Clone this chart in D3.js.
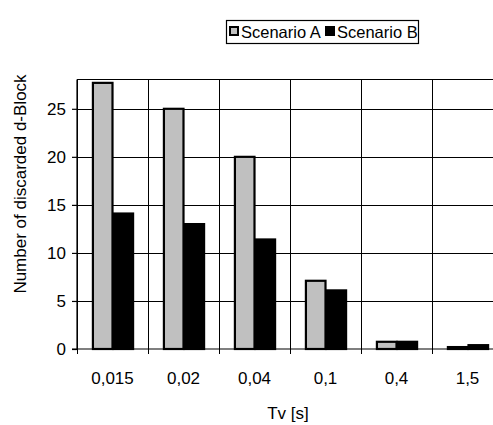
<!DOCTYPE html>
<html>
<head>
<meta charset="UTF-8">
<script src="https://d3js.org/d3.v7.min.js"></script>
<style>
  body { margin: 0; background: #fff; }
  svg text { font-family: "Liberation Sans", Arial, sans-serif; fill: #000; }
</style>
</head>
<body>
<div id="chart"></div>
<script>
var categories = ["0,015", "0,02", "0,04", "0,1", "0,4", "1,5"];
var seriesNames = ["Scenario A", "Scenario B"];
var scenarioA = [27.7, 25, 20, 7.1, 0.75, 0.2];
var scenarioB = [14.1, 13, 11.4, 6.1, 0.75, 0.4];
var yTicks = [0, 5, 10, 15, 20, 25];
var colors = ["#c0c0c0", "#000000"];

var width = 493, height = 425;
var plotLeft = 77, plotRight = 503, plotTop = 79.5, plotBottom = 349;
var fontSize = "17px";

var svg = d3.select("#chart").append("svg")
    .attr("width", width)
    .attr("height", height);

var x0 = d3.scaleBand()
    .domain(categories)
    .range([plotLeft, plotRight])
    .paddingInner(0.42)
    .paddingOuter(0.21);

var x1 = d3.scaleBand()
    .domain(seriesNames)
    .range([0, x0.bandwidth()]);

var y = d3.scaleLinear()
    .domain([0, 28.05])
    .range([plotBottom, plotTop]);

var step = x0.step();

// gridlines
svg.append("g").selectAll("line")
    .data(yTicks.slice(1))
    .enter().append("line")
    .attr("x1", plotLeft).attr("x2", width)
    .attr("y1", function (d) { return Math.round(y(d)) + 0.5; })
    .attr("y2", function (d) { return Math.round(y(d)) + 0.5; })
    .style("stroke", "#000").style("stroke-width", 1);

svg.append("line")
    .attr("x1", plotLeft).attr("x2", width)
    .attr("y1", plotTop).attr("y2", plotTop)
    .style("stroke", "#000").style("stroke-width", 1.2);

svg.append("g").selectAll("line")
    .data(categories)
    .enter().append("line")
    .attr("x1", function (d) { return Math.round(x0(d) - step * 0.21) + 0.5; })
    .attr("x2", function (d) { return Math.round(x0(d) - step * 0.21) + 0.5; })
    .attr("y1", plotTop).attr("y2", plotBottom + 5)
    .style("stroke", "#000").style("stroke-width", 1);

// bars
var rows = categories.map(function (c, i) {
    return { cat: c, values: [scenarioA[i], scenarioB[i]] };
});

var groups = svg.append("g").selectAll("g")
    .data(rows)
    .enter().append("g")
    .attr("transform", function (d) { return "translate(" + x0(d.cat) + ",0)"; });

groups.selectAll("rect")
    .data(function (d) { return d.values.map(function (v, i) { return { key: seriesNames[i], value: v, i: i }; }); })
    .enter().append("rect")
    .attr("x", function (d) { return x1(d.key) + 1; })
    .attr("width", x1.bandwidth() - 1)
    .attr("y", function (d) { return y(d.value); })
    .attr("height", function (d) { return y(0) - y(d.value); })
    .style("fill", function (d) { return colors[d.i]; })
    .style("stroke", "#000")
    .style("stroke-width", 2.2);

// y axis
var yAxis = svg.append("g")
    .attr("transform", "translate(" + plotLeft + ",0)")
    .call(d3.axisLeft(y).tickValues(yTicks).tickSize(5).tickPadding(6));
yAxis.select(".domain").attr("d", "M0," + plotTop + "V" + plotBottom);
yAxis.selectAll("line, path").style("stroke", "#000").style("stroke-width", 1.2);
yAxis.selectAll("text").style("font-size", fontSize)
    .attr("font-family", null);

// x axis
svg.append("line")
    .attr("x1", plotLeft - 5).attr("x2", width)
    .attr("y1", plotBottom).attr("y2", plotBottom)
    .style("stroke", "#000").style("stroke-width", 1.2);

svg.append("g").selectAll("text")
    .data(categories)
    .enter().append("text")
    .attr("x", function (d) { return x0(d) + x0.bandwidth() / 2; })
    .attr("y", 384)
    .attr("text-anchor", "middle")
    .style("font-size", fontSize)
    .text(function (d) { return d; });

svg.append("text")
    .attr("x", 288)
    .attr("y", 419)
    .attr("text-anchor", "middle")
    .style("font-size", fontSize)
    .text("Tv [s]");

svg.append("text")
    .attr("transform", "translate(26,184) rotate(-90)")
    .attr("text-anchor", "middle")
    .style("font-size", fontSize)
    .text("Number of discarded d-Block");

// legend
var legend = svg.append("g");
legend.append("rect")
    .attr("x", 226.5).attr("y", 20.5)
    .attr("width", 192).attr("height", 23)
    .style("fill", "#fff").style("stroke", "#000").style("stroke-width", 1.2);

var lx = [230, 326];
legend.selectAll("rect.key")
    .data(seriesNames)
    .enter().append("rect")
    .attr("class", "key")
    .attr("x", function (d, i) { return lx[i]; })
    .attr("y", 27)
    .attr("width", 8).attr("height", 8)
    .style("fill", function (d, i) { return colors[i]; })
    .style("stroke", "#000").style("stroke-width", 2);

legend.selectAll("text")
    .data(seriesNames)
    .enter().append("text")
    .attr("x", function (d, i) { return lx[i] + 11; })
    .attr("y", 38)
    .style("font-size", "16.5px")
    .text(function (d) { return d; });
</script>
</body>
</html>
